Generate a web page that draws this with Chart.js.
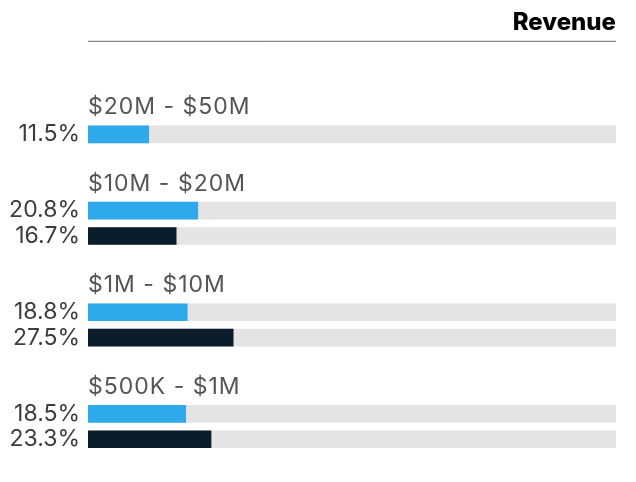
<!DOCTYPE html>
<html>
<head>
<meta charset="utf-8">
<script src="https://cdn.jsdelivr.net/npm/chart.js@4/dist/chart.umd.min.js"></script>
<style>
  html, body { margin: 0; padding: 0; background: #fff; }
</style>
</head>
<body>
<canvas id="chart" width="636" height="482"></canvas>
<script>
const categories = ["$20M - $50M", "$10M - $20M", "$1M - $10M", "$500K - $1M"];
const blueValues = [11.5, 20.8, 18.8, 18.5];
const darkValues = [null, 16.7, 27.5, 23.3];
const trackMax = 100;

const FONT = "Inter, 'Noto Sans', sans-serif";

// every group gets two empty slots (room for its heading) then its bars
const rows = [];
categories.forEach((cat, i) => {
  rows.push({ kind: "gap" }, { kind: "gap" });
  rows.push({ kind: "blue", value: blueValues[i], group: cat });
  if (darkValues[i] != null) rows.push({ kind: "dark", value: darkValues[i] });
});

const pick = (kind) => rows.map((r) => (r.kind === kind ? r.value : null));

const groupHeadings = {
  id: "groupHeadings",
  afterDatasetsDraw(chart) {
    const { ctx, chartArea, scales } = chart;
    ctx.save();
    ctx.font = "23px " + FONT;
    ctx.letterSpacing = "1px";
    ctx.fillStyle = "#555";
    ctx.textAlign = "left";
    ctx.textBaseline = "alphabetic";
    rows.forEach((r, i) => {
      if (!r.group) return;
      ctx.fillText(r.group, chartArea.left, scales.y.getPixelForValue(i) - 20);
    });
    ctx.letterSpacing = "0px";
    // rule under the title
    const ruleY = chart.titleBlock.bottom - 29.5;
    ctx.strokeStyle = "#6b6b6b";
    ctx.lineWidth = 1;
    ctx.beginPath();
    ctx.moveTo(chartArea.left, ruleY);
    ctx.lineTo(chartArea.right, ruleY);
    ctx.stroke();
    ctx.restore();
  },
};

new Chart(document.getElementById("chart"), {
  type: "bar",
  data: {
    labels: rows.map((r, i) => String(i)),
    datasets: [
      { label: "blue", data: pick("blue"), backgroundColor: "#2eaaec" },
      { label: "dark", data: pick("dark"), backgroundColor: "#0b1d2b" },
      {
        label: "track",
        data: rows.map((r) => (r.kind === "gap" ? null : trackMax)),
        backgroundColor: "#e4e4e4",
      },
    ],
  },
  options: {
    responsive: false,
    animation: false,
    indexAxis: "y",
    grouped: false,
    barThickness: 17,
    borderWidth: 0,
    layout: { padding: { left: 0, right: 20, top: 0, bottom: 30 } },
    scales: {
      x: { min: 0, max: trackMax, display: false },
      y: {
        grid: { display: false, drawTicks: false },
        border: { display: false },
        afterFit: (scale) => { scale.width = 88; },
        ticks: {
          autoSkip: false,
          padding: 8,
          color: "#3d3d3d",
          font: { family: FONT, size: 23 },
          callback: (val, i) => (rows[i].value != null ? rows[i].value.toFixed(1) + "%" : ""),
        },
      },
    },
    plugins: {
      legend: { display: false },
      tooltip: { enabled: false },
      title: {
        display: true,
        text: "Revenue",
        align: "end",
        color: "#000",
        font: { family: FONT, size: 24, weight: 800 },
        padding: { top: 8, bottom: 34 },
      },
    },
  },
  plugins: [groupHeadings],
});
</script>
</body>
</html>
